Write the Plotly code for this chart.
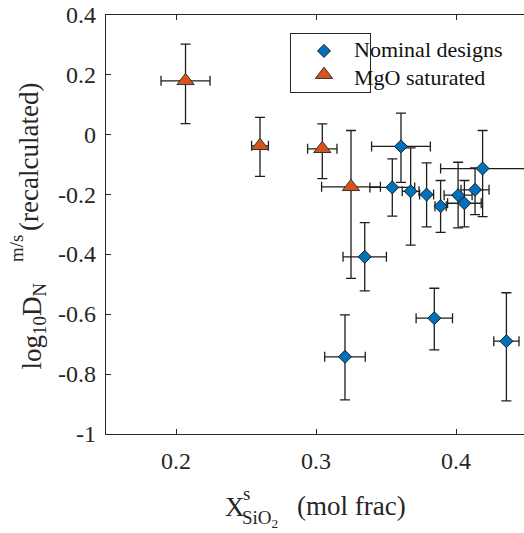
import plotly.graph_objects as go

# ---- data ----
nom_x = [0.3607, 0.3545, 0.3676, 0.3790, 0.3890, 0.4015, 0.4060, 0.4136, 0.4190, 0.3348, 0.3207, 0.3845, 0.4360]
nom_y = [-0.039, -0.176, -0.189, -0.200, -0.239, -0.202, -0.229, -0.184, -0.113, -0.408, -0.742, -0.613, -0.690]
nom_y_plus = [0.111, 0.095, 0.145, 0.106, 0.086, 0.110, 0.076, 0.073, 0.127, 0.114, 0.140, 0.100, 0.162]
nom_y_minus = [0.120, 0.096, 0.180, 0.108, 0.087, 0.109, 0.079, 0.083, 0.161, 0.114, 0.144, 0.106, 0.199]
nom_x_err = [0.021, 0.016, 0.006, 0.005, 0.004, 0.010, 0.012, 0.010, 0.030, 0.0155, 0.0145, 0.013, 0.009]

mgo_x = [0.2068, 0.2600, 0.3045, 0.3250]
mgo_y = [0.180, -0.037, -0.047, -0.174]
mgo_y_plus = [0.123, 0.095, 0.083, 0.188]
mgo_y_minus = [0.143, 0.102, 0.100, 0.306]
mgo_x_err = [0.0175, 0.006, 0.0105, 0.021]

series_names = ["Nominal designs", "MgO saturated"]
x_ticks = [0.2, 0.3, 0.4]
x_ticklabels = ["0.2", "0.3", "0.4"]
y_ticks = [0.4, 0.2, 0.0, -0.2, -0.4, -0.6, -0.8, -1.0]
y_ticklabels = ["0.4", "0.2", "0", "-0.2", "-0.4", "-0.6", "-0.8", "-1"]

FONT = "Times New Roman, Liberation Serif, Tinos, Nimbus Roman, DejaVu Serif, serif"
AX = "#262626"
EB = "#1e1e1e"

fig = go.Figure()
fig.add_trace(go.Scatter(
    x=nom_x, y=nom_y, mode="markers", name="\u00a0",
    marker=dict(symbol="diamond", size=10, color="#0072BD", line=dict(color="#1a1a1a", width=1)),
    error_x=dict(type="data", array=nom_x_err, symmetric=True, color=EB, thickness=1.3, width=5),
    error_y=dict(type="data", array=nom_y_plus, arrayminus=nom_y_minus, symmetric=False,
                 color=EB, thickness=1.3, width=5),
))
fig.add_trace(go.Scatter(
    x=mgo_x, y=mgo_y, mode="markers", name="\u00a0\u00a0",
    marker=dict(symbol="triangle-up", size=15, color="#D95319", line=dict(color="#333333", width=1)),
    error_x=dict(type="data", array=mgo_x_err, symmetric=True, color=EB, thickness=1.3, width=5),
    error_y=dict(type="data", array=mgo_y_plus, arrayminus=mgo_y_minus, symmetric=False,
                 color=EB, thickness=1.3, width=5),
))

fig.update_layout(
    width=524, height=533,
    margin=dict(l=106, r=0, t=15, b=99),
    paper_bgcolor="white", plot_bgcolor="white",
    font=dict(family=FONT, size=24, color=AX),
    showlegend=True,
    legend=dict(x=(290 - 106) / 418, y=(434 - 33) / 419, xanchor="left", yanchor="top",
                bordercolor=AX, borderwidth=1, bgcolor="white", itemwidth=56,
                entrywidth=190, entrywidthmode="pixels",
                font=dict(family=FONT, size=16, color="#111111"), tracegroupgap=0),
)
fig.update_xaxes(range=[0.15, 0.15 + 418 / 1400], tickvals=x_ticks, showticklabels=False,
                 ticks="inside", ticklen=5, tickcolor=AX, showline=True, linecolor=AX, linewidth=1,
                 mirror="ticks", showgrid=False, zeroline=False)
fig.update_yaxes(range=[-1.0, 0.4], tickvals=y_ticks, showticklabels=False,
                 ticks="inside", ticklen=5, tickcolor=AX, showline=True, linecolor=AX, linewidth=1,
                 mirror=False, showgrid=False, zeroline=False)

TK = 24   # tick label size
LG = 22   # legend text size
T = 27    # axis title size
S = 19    # script size

# tick labels (placed at the axis' own tick values)
for v, lab in zip(x_ticks, x_ticklabels):
    fig.add_annotation(text=lab, x=v, xref="x", y=0, yref="paper", yshift=-27,
                       xanchor="center", yanchor="middle", showarrow=False,
                       font=dict(family=FONT, size=TK, color=AX))
for v, lab in zip(y_ticks, y_ticklabels):
    fig.add_annotation(text=lab, x=0, xref="paper", xshift=-8, y=v, yref="y",
                       xanchor="right", yanchor="middle", showarrow=False,
                       font=dict(family=FONT, size=TK, color=AX))


def ann(text, px, py, size, angle=0, xa="left", ya="middle", color=AX):
    # px, py: pixel position in the figure (from top-left); plot origin at (106, 434)
    fig.add_annotation(text=text, xref="paper", yref="paper", x=0, y=0,
                       xshift=px - 106, yshift=434 - py, showarrow=False,
                       xanchor=xa, yanchor=ya, textangle=angle,
                       font=dict(family=FONT, size=size, color=color))


# legend texts
ann(series_names[0], 352, 49, LG, color="#111111")
ann(series_names[1], 352, 77, LG, color="#111111")

# x title: X^s_{SiO2} (mol frac)
ann("X", 223, 507, T)
ann("s", 241, 493, S)
ann("SiO<sub>2</sub>", 240, 519, S)
ann("(mol frac)", 295, 506, T)

# y title (rotated): log10 D_N^{m/s} (recalculated)
ann("log<sub>10</sub>D<sub>N</sub>", 33, 372, T, angle=-90, xa="center", ya="bottom")
ann("m/s", 16, 249, S, angle=-90, xa="center", ya="middle")
ann("(recalculated)", 29, 233, T, angle=-90, xa="center", ya="bottom")

fig.write_html("out.html", config={"displayModeBar": False},
               post_script="document.body.style.margin='0px';")
